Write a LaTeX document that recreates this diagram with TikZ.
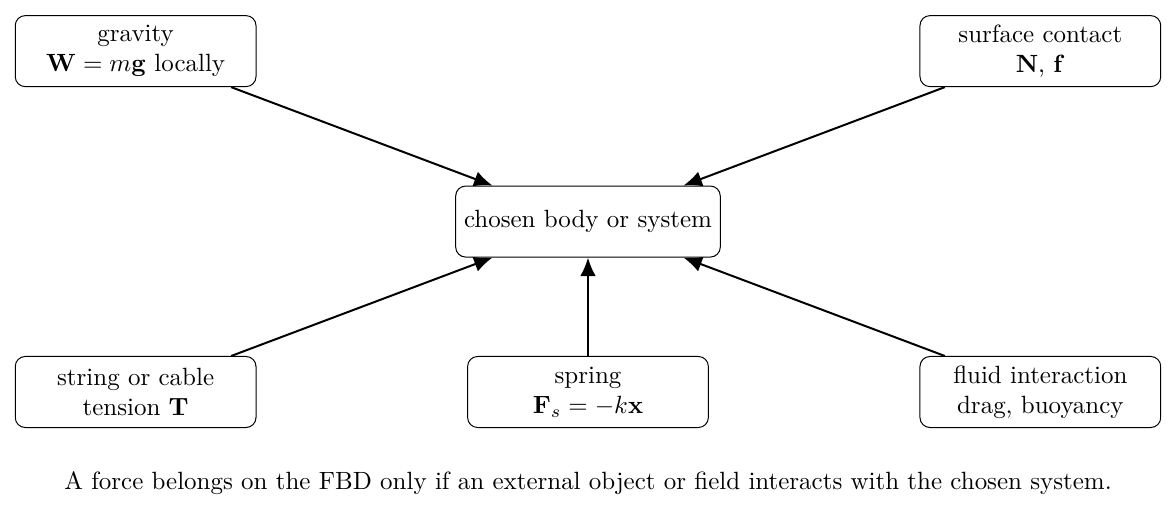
\documentclass[tikz,border=0pt]{standalone}
\usepackage{amsmath}
\usepackage{amssymb}
\usepackage{bm}
\usetikzlibrary{arrows.meta}

\begin{document}
\begin{tikzpicture}[force/.style={draw,rounded corners,align=center,minimum width=3.39cm,minimum height=1cm},
  pull/.style={thick,-{Latex[length=2.6mm,width=2.2mm]}}]
\useasboundingbox (-8.28,-4.19) rectangle (8.28,3.12);
\node [force,minimum width=0cm] (body) at (0,0) {chosen body or system};
\node [force] (gravity) at (-6.37,2.40) {gravity\\ $\mathbf{W}=m\mathbf{g}$ locally};
\node [force] (surface) at (6.37,2.40) {surface contact\\ $\mathbf{N}$, $\mathbf{f}$};
\node [force] (string) at (-6.37,-2.40) {string or cable\\ tension $\mathbf{T}$};
\node [force] (spring) at (0,-2.40) {spring\\ $\mathbf{F}_s=-k\mathbf{x}$};
\node [force] (fluid) at (6.37,-2.40) {fluid interaction\\ drag, buoyancy};
\draw [pull] (gravity) -- (body);
\draw [pull] (surface) -- (body);
\draw [pull] (string) -- (body);
\draw [pull] (spring) -- (body);
\draw [pull] (fluid) -- (body);
\node (note) at (0,-3.68) {A force belongs on the FBD only if an external object or field interacts with the chosen system.};
\end{tikzpicture}
\end{document}
